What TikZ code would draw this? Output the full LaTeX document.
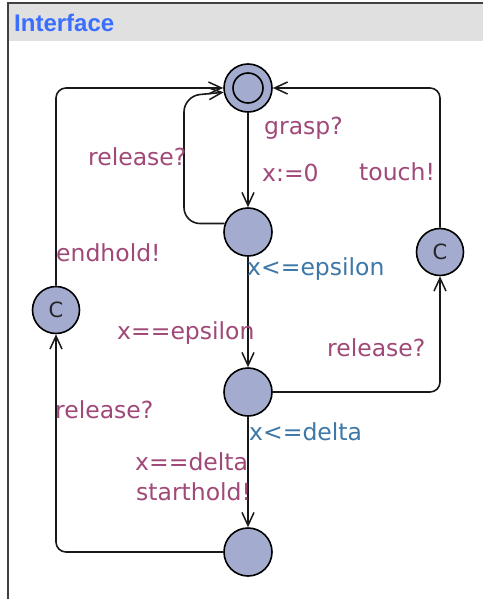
\documentclass[tikz,border=0pt]{standalone}
\usepackage{fontspec}
\setmainfont{DejaVu Sans}
\newfontfamily\titlefont{Liberation Sans}
\usetikzlibrary{arrows.meta}
\definecolor{locfill}{HTML}{A3ABCF}
\definecolor{labred}{HTML}{A04878}
\definecolor{invblue}{HTML}{3D78A8}
\definecolor{headgray}{HTML}{E0E0E0}
\definecolor{framegray}{HTML}{404040}
\definecolor{titleblue}{HTML}{3A6EFF}
\begin{document}
\begin{tikzpicture}[x=1pt,y=-1pt,
  loc/.style={circle,draw=black,line width=1.6pt,fill=locfill,minimum size=48pt,inner sep=0pt},
  cloc/.style={loc,minimum size=47pt,font=\fontsize{21}{21}\selectfont,text=black!85},
  edge/.style={draw=black!90,line width=1.6pt,-{Straight Barb[length=13pt,width=12pt,line width=1.5pt]}},
  lab/.style={anchor=base west,inner sep=0pt,text=labred,font=\fontsize{23.5}{28}\selectfont},
  inv/.style={lab,text=invblue}]
\useasboundingbox (0,0) rectangle (483,599);
\fill[white] (0,0) rectangle (483,599);
% window header and frame
\fill[headgray] (9,4) rectangle (483,41);
\draw[framegray,line width=2.2pt] (8,599) -- (8,3) -- (483,3);
\node[anchor=base west,inner sep=0pt,text=titleblue,font=\titlefont\bfseries\fontsize{24}{24}\selectfont] (title) at (14,32) {Interface};
% locations
\node[loc] (n1) at (248,88) {};
\draw[line width=1.6pt] (n1.center) circle (15pt);
\node[loc] (n2) at (248,232) {};
\node[loc] (n3) at (248,392) {};
\node[loc] (n4) at (248,552) {};
\node[cloc] (cl) at (56,310) {C};
\node[cloc] (cr) at (440,252) {C};
% transitions
\draw[edge] (n1) -- (n2);
\draw[edge,rounded corners=16pt] (n2.160) -| (184,96) -- (n1.190);
\draw[edge] (n2) -- (n3);
\draw[edge,rounded corners=10pt] (n3.east) -| (cr.south);
\draw[edge,rounded corners=10pt] (cr.north) |- (n1.east);
\draw[edge] (n3) -- (n4);
\draw[edge,rounded corners=10pt] (n4.west) -| (cl.south);
\draw[edge,rounded corners=10pt] (cl.north) |- (n1.west);
% labels
\node[lab] (l1) at (264,135) {grasp?};
\node[lab] (l2) at (262,181) {x:=0};
\node[lab] (l3) at (88,165) {release?};
\node[lab] (l4) at (359,180) {touch!};
\node[lab] (l5) at (56,261) {endhold!};
\node[inv] (i1) at (247,275) {x<=epsilon};
\node[lab] (l6) at (117,339) {x==epsilon};
\node[lab] (l7) at (327,356) {release?};
\node[lab] (l8) at (55,418) {release?};
\node[inv] (i2) at (249,440) {x<=delta};
\node[lab] (l9) at (135,470) {x==delta};
\node[lab] (l10) at (136,500) {starthold!};
\end{tikzpicture}
\end{document}
